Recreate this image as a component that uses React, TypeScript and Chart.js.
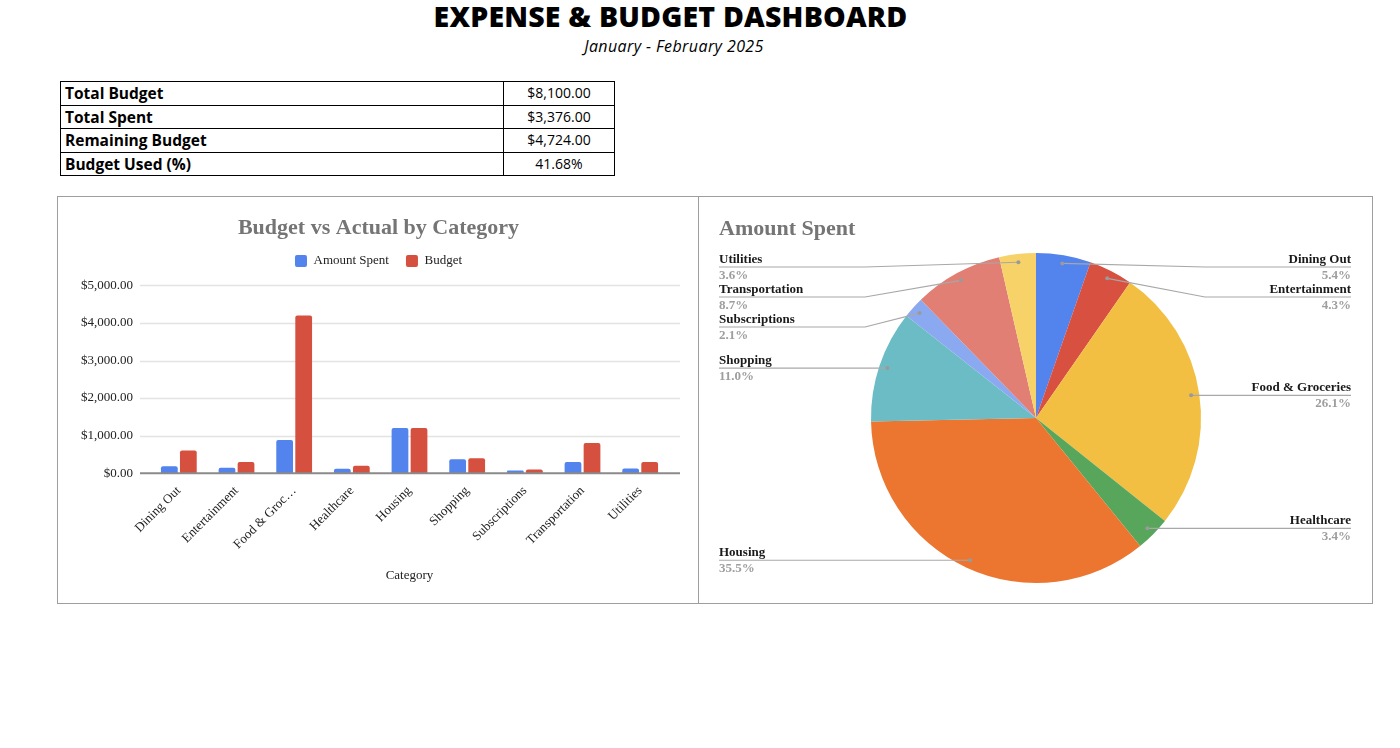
import React, { useEffect, useRef } from 'react';
import { Chart } from 'chart.js/auto';

const categories = [
  'Dining Out',
  'Entertainment',
  'Food & Groceries',
  'Healthcare',
  'Housing',
  'Shopping',
  'Subscriptions',
  'Transportation',
  'Utilities',
];
const amountSpent = [181, 145, 880, 115, 1200, 370, 70, 294, 121];
const budget = [600, 300, 4200, 200, 1200, 400, 100, 800, 300];
const sliceColors = [
  '#5383EC',
  '#D85040',
  '#F2BF42',
  '#58A65C',
  '#EC7630',
  '#6BBCC4',
  '#8AA9F0',
  '#E17F74',
  '#F6D268',
];
const yMax = 5000;
const yStep = 1000;

const SERIF = '"Liberation Serif", "DejaVu Serif", serif';
const SANS = '"Open Sans", "Noto Sans", sans-serif';

const money = (v: number) =>
  '$' + v.toLocaleString('en-US', { minimumFractionDigits: 2, maximumFractionDigits: 2 });

const totalBudget = budget.reduce((a, b) => a + b, 0);
const totalSpent = amountSpent.reduce((a, b) => a + b, 0);
const summaryLabels = ['Total Budget', 'Total Spent', 'Remaining Budget', 'Budget Used (%)'];
const summaryValues = [
  money(totalBudget),
  money(totalSpent),
  money(totalBudget - totalSpent),
  ((totalSpent / totalBudget) * 100).toFixed(2) + '%',
];

// gridlines a bit wider than the plot area, like the sheets chart
const wideGrid = {
  id: 'wideGrid',
  beforeDatasetsDraw(chart: any) {
    const { ctx, chartArea } = chart;
    const y = chart.scales.y;
    ctx.save();
    ctx.strokeStyle = '#e3e3e3';
    ctx.lineWidth = 1.5;
    y.ticks.forEach((t: any) => {
      if (t.value === 0) return;
      const py = Math.round(y.getPixelForValue(t.value)) + 0.5;
      ctx.beginPath();
      ctx.moveTo(chartArea.left - 10, py);
      ctx.lineTo(chartArea.right + 11, py);
      ctx.stroke();
    });
    ctx.restore();
  },
  afterDatasetsDraw(chart: any) {
    const { ctx, chartArea } = chart;
    const py = chart.scales.y.getPixelForValue(0);
    ctx.save();
    ctx.strokeStyle = '#8a8a8a';
    ctx.lineWidth = 2;
    ctx.beginPath();
    ctx.moveTo(chartArea.left - 10, py);
    ctx.lineTo(chartArea.right + 11, py);
    ctx.stroke();
    ctx.restore();
  },
};

// legend height tweak, and title/legend centred on the panel
const legendGap = {
  id: 'legendGap',
  beforeInit(chart: any) {
    const fit = chart.legend.fit;
    chart.legend.fit = function () {
      fit.bind(chart.legend)();
      this.height += 8;
    };
  },
  afterLayout(chart: any) {
    [chart.titleBlock, chart.legend].forEach((b: any) => {
      if (!b) return;
      b.left += 7;
      b.right += 7;
    });
  },
};

const pieLabels = {
  id: 'pieLabels',
  afterDatasetsDraw(chart: any) {
    const { ctx, width } = chart;
    const meta = chart.getDatasetMeta(0);
    const data = chart.data.datasets[0].data as number[];
    const sum = data.reduce((a, b) => a + b, 0);
    const items: any[] = [];
    meta.data.forEach((arc: any, i: number) => {
      const { x, y, startAngle, endAngle, outerRadius } = arc.getProps(
        ['x', 'y', 'startAngle', 'endAngle', 'outerRadius'],
        true
      );
      const mid = (startAngle + endAngle) / 2;
      const ax = x + Math.cos(mid) * outerRadius * 0.95;
      const ay = y + Math.sin(mid) * outerRadius * 0.95;
      items.push({
        i,
        ax,
        ay,
        right: Math.cos(mid) >= 0,
        minY: y - outerRadius + 14,
      });
    });
    const sides = [items.filter((d) => d.right), items.filter((d) => !d.right)];
    sides.forEach((list) => {
      list.sort((a, b) => a.ay - b.ay);
      let prev = -Infinity;
      list.forEach((d) => {
        d.ly = Math.max(d.ay, d.minY, prev + 30);
        prev = d.ly;
      });
    });
    ctx.save();
    items.forEach((d) => {
      const edge = d.right ? width - 22 : 20;
      const knee = d.right ? edge - 146 : edge + 146;
      ctx.strokeStyle = '#a8a8a8';
      ctx.lineWidth = 1.2;
      ctx.beginPath();
      ctx.moveTo(d.ax, d.ay);
      ctx.lineTo(knee, d.ly);
      ctx.lineTo(edge, d.ly);
      ctx.stroke();
      ctx.fillStyle = '#9a9a9a';
      ctx.beginPath();
      ctx.arc(d.ax, d.ay, 2, 0, Math.PI * 2);
      ctx.fill();
      ctx.textAlign = d.right ? 'right' : 'left';
      ctx.font = 'bold 13px ' + SERIF;
      ctx.fillStyle = '#1a1a1a';
      ctx.textBaseline = 'bottom';
      ctx.fillText(chart.data.labels[d.i], edge, d.ly - 1);
      ctx.fillStyle = '#9e9e9e';
      ctx.textBaseline = 'top';
      ctx.fillText(((data[d.i] / sum) * 100).toFixed(1) + '%', edge, d.ly + 2);
    });
    ctx.restore();
  },
};

const BarChart: React.FC = () => {
  const ref = useRef<HTMLCanvasElement>(null);
  useEffect(() => {
    if (!ref.current) return;
    const chart = new Chart(ref.current, {
      type: 'bar',
      data: {
        labels: categories,
        datasets: [
          {
            label: 'Amount Spent',
            data: amountSpent,
            backgroundColor: '#5383EC',
            borderRadius: 2,
            categoryPercentage: 0.66,
            barPercentage: 0.88,
          },
          {
            label: 'Budget',
            data: budget,
            backgroundColor: '#D6503F',
            borderRadius: 2,
            categoryPercentage: 0.66,
            barPercentage: 0.88,
          },
        ],
      },
      options: {
        responsive: false,
        animation: false,
        layout: { padding: { left: 16, right: 29, top: 0, bottom: 20 } },
        plugins: {
          title: {
            display: true,
            text: 'Budget vs Actual by Category',
            color: '#757575',
            font: { family: SERIF, size: 22, weight: 'bold' },
            padding: { top: 18, bottom: -4 },
          },
          legend: {
            labels: {
              color: '#222',
              font: { family: SERIF, size: 13 },
              boxWidth: 12,
              boxHeight: 12,
              useBorderRadius: true,
              borderRadius: 2,
              padding: 17,
            },
          },
          tooltip: { enabled: false },
        },
        scales: {
          x: {
            grid: { display: false },
            border: { display: false },
            afterFit: (s: any) => {
              s.paddingLeft = 0;
              s.paddingRight = 0;
            },
            ticks: {
              color: '#222',
              font: { family: SERIF, size: 13 },
              minRotation: 45,
              maxRotation: 45,
              padding: 2,
              callback: (_v: any, i: number) => {
                const s = categories[i];
                return s.length > 14 ? s.slice(0, 11) + '…' : s;
              },
            },
            title: {
              display: true,
              text: 'Category',
              color: '#222',
              font: { family: SERIF, size: 13 },
              padding: { top: 13, bottom: 0 },
            },
          },
          y: {
            min: 0,
            max: yMax,
            grid: { display: false },
            border: { display: false },
            afterFit: (s: any) => {
              s.width = 76;
            },
            ticks: {
              stepSize: yStep,
              color: '#222',
              padding: 9,
              font: { family: SERIF, size: 13 },
              callback: (v: any) => money(Number(v)),
            },
          },
        },
      },
      plugins: [wideGrid, legendGap],
    });
    return () => chart.destroy();
  }, []);
  return <canvas ref={ref} width={640} height={406} style={{ display: 'block' }} />;
};

const PieChart: React.FC = () => {
  const ref = useRef<HTMLCanvasElement>(null);
  useEffect(() => {
    if (!ref.current) return;
    const chart = new Chart(ref.current, {
      type: 'pie',
      data: {
        labels: categories,
        datasets: [
          {
            data: amountSpent,
            backgroundColor: sliceColors,
            borderWidth: 0,
          },
        ],
      },
      options: {
        responsive: false,
        animation: false,
        layout: { padding: { left: 20, right: 20, top: 0, bottom: 20 } },
        plugins: {
          title: {
            display: true,
            text: 'Amount Spent',
            align: 'start',
            color: '#757575',
            font: { family: SERIF, size: 22, weight: 'bold' },
            padding: { top: 19, bottom: 10.6 },
          },
          legend: { display: false },
          tooltip: { enabled: false },
        },
      },
      plugins: [pieLabels],
    });
    return () => chart.destroy();
  }, []);
  return <canvas ref={ref} width={674} height={406} style={{ display: 'block' }} />;
};

const cell: React.CSSProperties = {
  border: '1.5px solid #000',
  padding: '0 4px',
  height: 22.5,
  lineHeight: '22px',
};

const App: React.FC = () => {
  return (
    <div
      style={{
        position: 'absolute',
        left: 0,
        top: 0,
        width: 1400,
        height: 748,
        background: '#fff',
        fontFamily: SANS,
        color: '#000',
      }}
    >
      <div
        style={{
          position: 'absolute',
          left: 0,
          top: -3,
          width: 1341,
          textAlign: 'center',
          fontSize: 28.5,
          fontWeight: 800,
          letterSpacing: 0.2,
        }}
      >
        EXPENSE &amp; BUDGET DASHBOARD
      </div>
      <div
        style={{
          position: 'absolute',
          left: 0,
          top: 35,
          width: 1348,
          textAlign: 'center',
          fontSize: 16,
          letterSpacing: 0.4,
          fontStyle: 'italic',
        }}
      >
        January - February 2025
      </div>
      <table
        style={{
          position: 'absolute',
          left: 60,
          top: 81,
          width: 555,
          borderCollapse: 'collapse',
        }}
      >
        <tbody>
          {summaryLabels.map((l, i) => (
            <tr key={l}>
              <td style={{ ...cell, fontWeight: 700, fontSize: 15.5, width: 434 }}>{l}</td>
              <td style={{ ...cell, fontSize: 14, textAlign: 'center' }}>{summaryValues[i]}</td>
            </tr>
          ))}
        </tbody>
      </table>
      <div
        style={{
          position: 'absolute',
          left: 57,
          top: 196,
          width: 1314,
          height: 406,
          border: '1px solid #9e9e9e',
          display: 'flex',
        }}
      >
        <div style={{ width: 640, height: 406, borderRight: '1px solid #9e9e9e' }}>
          <BarChart />
        </div>
        <div style={{ width: 674, height: 406 }}>
          <PieChart />
        </div>
      </div>
    </div>
  );
};

export default App;
